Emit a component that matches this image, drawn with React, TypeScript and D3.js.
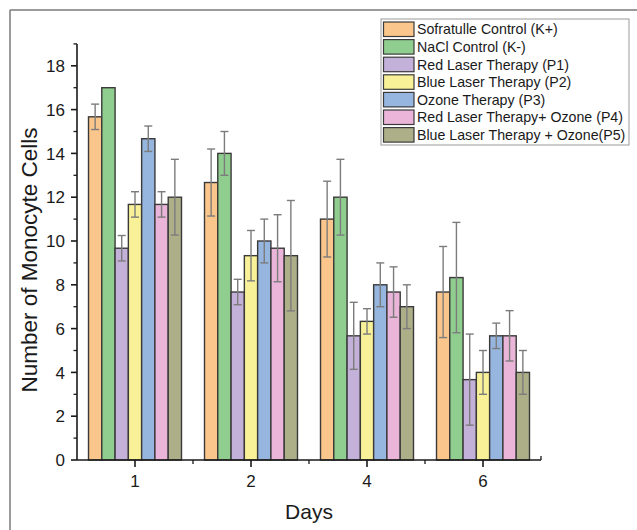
import React from "react";
import * as d3 from "d3";

const days = ["1", "2", "4", "6"];
const seriesNames = [
  "Sofratulle Control (K+)",
  "NaCl Control (K-)",
  "Red Laser Therapy (P1)",
  "Blue Laser Therapy (P2)",
  "Ozone Therapy (P3)",
  "Red Laser Therapy+ Ozone (P4)",
  "Blue Laser Therapy + Ozone(P5)",
];
const colors = ["#FBC68B", "#90CE90", "#C4B1D9", "#F8F198", "#96B5DF", "#EAB5D9", "#ADAF89"];
// values[series][day]
const means = [
  [15.67, 12.67, 11, 7.67],
  [17, 14, 12, 8.33],
  [9.67, 7.67, 5.67, 3.67],
  [11.67, 9.33, 6.33, 4],
  [14.67, 10, 8, 5.67],
  [11.67, 9.67, 7.67, 5.67],
  [12, 9.33, 7, 4],
];
const errors = [
  [0.58, 1.53, 1.73, 2.08],
  [0, 1, 1.73, 2.52],
  [0.58, 0.58, 1.53, 2.08],
  [0.58, 1.15, 0.58, 1],
  [0.58, 1, 1, 0.58],
  [0.58, 1.53, 1.15, 1.15],
  [1.73, 2.52, 1, 1],
];
const yTicks = [0, 2, 4, 6, 8, 10, 12, 14, 16, 18];
const yMinor = [1, 3, 5, 7, 9, 11, 13, 15, 17, 19];

const W = 637;
const H = 530;
const left = 77;
const right = 541;
const bottom = 460;

export default function App() {
  const x0 = d3.scaleBand<string>().domain(days).range([left, right]).padding(0);
  const groupW = 93;
  const x1 = d3
    .scaleBand<number>()
    .domain(d3.range(seriesNames.length))
    .range([0, groupW])
    .padding(0);
  const y = d3.scaleLinear().domain([0, 19]).range([bottom, bottom - 19 * 21.9]);
  const font = "Liberation Sans, Arial, sans-serif";
  const bw = x1.bandwidth();
  const capW = 8;
  const ink = "#1a1a1a";

  return (
    <svg
      width={W}
      height={H}
      style={{ position: "absolute", left: 0, top: 0, background: "#fff" }}
      fontFamily={font}
    >
      <rect x={0} y={0} width={W} height={H} fill="#fff" />
      {/* frame */}
      <line x1={10} y1={10} x2={W} y2={10} stroke="#7a7a7a" strokeWidth={1.5} />
      <line x1={10} y1={10} x2={10} y2={H} stroke="#7a7a7a" strokeWidth={1.5} />

      {/* bars */}
      {days.map((d, di) => {
        const gx = (x0(d) as number) + x0.bandwidth() / 2 - groupW / 2;
        return (
          <g key={d}>
            {seriesNames.map((s, si) => {
              const v = means[si][di];
              const bx = gx + (x1(si) as number);
              return (
                <rect
                  key={s}
                  x={bx}
                  y={y(v)}
                  width={bw}
                  height={y(0) - y(v)}
                  fill={colors[si]}
                  stroke="#3a3a3a"
                  strokeWidth={1.4}
                />
              );
            })}
            {seriesNames.map((s, si) => {
              const v = means[si][di];
              const e = errors[si][di];
              if (!e) return null;
              const cx = gx + (x1(si) as number) + bw / 2;
              return (
                <g key={"e" + s} stroke="#7c7c7c" strokeWidth={1.4}>
                  <line x1={cx} x2={cx} y1={y(v + e)} y2={y(v - e)} />
                  <line x1={cx - capW / 2} x2={cx + capW / 2} y1={y(v + e)} y2={y(v + e)} />
                  <line x1={cx - capW / 2} x2={cx + capW / 2} y1={y(v - e)} y2={y(v - e)} />
                </g>
              );
            })}
          </g>
        );
      })}

      {/* y axis */}
      <line x1={left} x2={left} y1={y(19)} y2={bottom} stroke={ink} strokeWidth={1.6} />
      {yTicks.map((t) => (
        <g key={t}>
          <line x1={left - 6} x2={left} y1={y(t)} y2={y(t)} stroke={ink} strokeWidth={1.6} />
          <text x={left - 12} y={y(t)} dy="0.36em" textAnchor="end" fontSize={17} fill={ink}>
            {t}
          </text>
        </g>
      ))}
      {yMinor.map((t) => (
        <line key={t} x1={left - 3.5} x2={left} y1={y(t)} y2={y(t)} stroke={ink} strokeWidth={1.3} />
      ))}
      <text
        transform={`translate(37,${(y(19) + bottom) / 2 + 8}) rotate(-90)`}
        textAnchor="middle"
        fontSize={22.5}
        fill={ink}
      >
        Number of Monocyte Cells
      </text>

      {/* x axis */}
      <line x1={left} x2={right} y1={bottom} y2={bottom} stroke={ink} strokeWidth={1.6} />
      <line x1={right} x2={right} y1={bottom} y2={bottom - 4} stroke={ink} strokeWidth={1.3} />
      {days.map((d) => {
        const cx = (x0(d) as number) + x0.bandwidth() / 2;
        return (
          <g key={d}>
            <line x1={cx} x2={cx} y1={bottom} y2={bottom + 7} stroke={ink} strokeWidth={1.6} />
            <text x={cx} y={bottom + 27} textAnchor="middle" fontSize={17} fill={ink}>
              {d}
            </text>
          </g>
        );
      })}
      {days.slice(1).map((d) => (
        <line
          key={"m" + d}
          x1={x0(d) as number}
          x2={x0(d) as number}
          y1={bottom}
          y2={bottom + 4}
          stroke={ink}
          strokeWidth={1.3}
        />
      ))}
      <text x={(left + right) / 2} y={519} textAnchor="middle" fontSize={21} fill={ink}>
        Days
      </text>

      {/* legend */}
      <rect x={381} y={19} width={248} height={126} fill="#fff" stroke="#9a9a9a" strokeWidth={1} />
      {seriesNames.map((s, si) => {
        const ry = 22 + si * 17.6;
        return (
          <g key={s}>
            <rect x={383.5} y={ry} width={30.5} height={14.5} fill={colors[si]} stroke="#3a3a3a" strokeWidth={1.2} />
            <text x={417} y={ry + 7.5} dy="0.35em" fontSize={14.2} fill={ink}>
              {s}
            </text>
          </g>
        );
      })}
    </svg>
  );
}
